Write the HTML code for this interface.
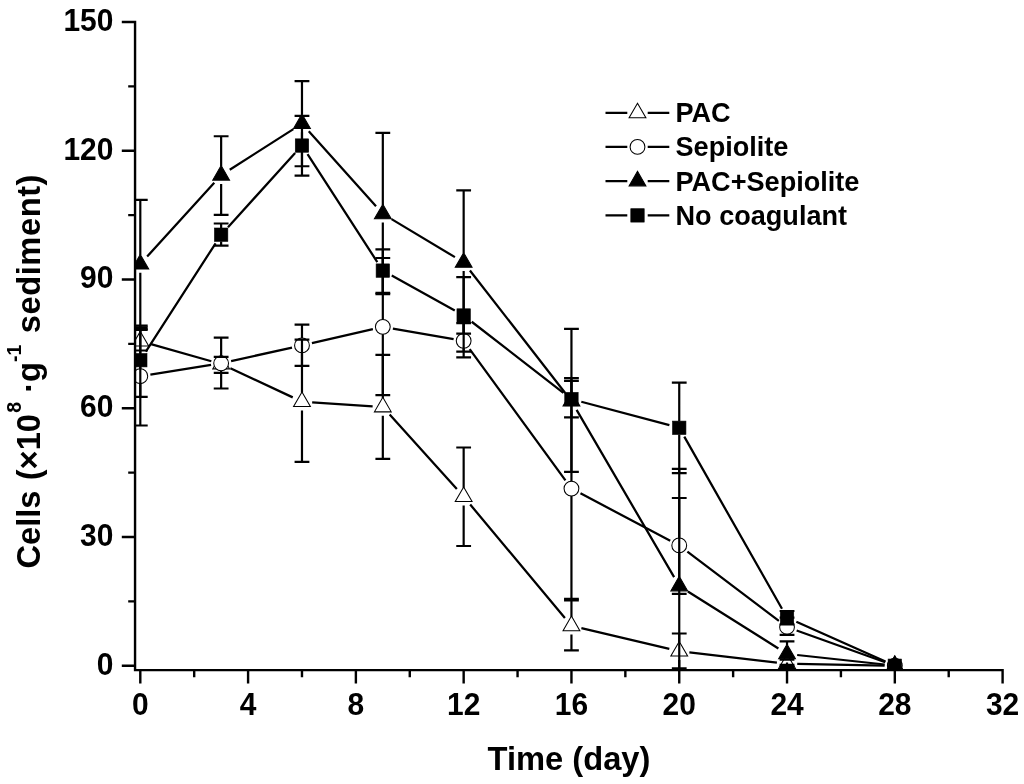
<!DOCTYPE html>
<html><head><meta charset="utf-8"><title>Chart</title>
<style>html,body{margin:0;padding:0;background:#fff;}body{width:1024px;height:784px;position:relative;overflow:hidden;font-family:"Liberation Sans",sans-serif;}</style></head>
<body>
<svg width="1024" height="784" viewBox="0 0 1024 784" style="display:block;position:absolute;left:0;top:0;will-change:transform">
<defs><clipPath id="pc"><rect x="134.45" y="0" width="1024" height="670.75"/></clipPath></defs>
<g clip-path="url(#pc)">
<path d="M150.11 343.88L211.33 361.22M230.39 368.31L292.74 397.39M312.16 402.37L372.64 406.33M389.65 414.58L456.84 489.12M470.2 504.53L564.91 617.97M581.38 628.14L669.31 648.86M689.37 652.38L776.9 662.52M797.23 663.89L884.62 665.51" fill="none" stroke="#000" stroke-width="2.25" stroke-linecap="butt"/>
<path d="M140.3 331.4L148.7 345.95L131.9 345.95Z" fill="#fff" stroke="#000" stroke-width="1.05" stroke-linejoin="miter"/>
<path d="M221.14 354.3L229.54 368.85L212.74 368.85Z" fill="#fff" stroke="#000" stroke-width="1.05" stroke-linejoin="miter"/>
<path d="M301.98 392L310.38 406.55L293.58 406.55Z" fill="#fff" stroke="#000" stroke-width="1.05" stroke-linejoin="miter"/>
<path d="M382.82 397.3L391.22 411.85L374.42 411.85Z" fill="#fff" stroke="#000" stroke-width="1.05" stroke-linejoin="miter"/>
<path d="M463.66 487L472.06 501.55L455.26 501.55Z" fill="#fff" stroke="#000" stroke-width="1.05" stroke-linejoin="miter"/>
<path d="M571.45 616.1L579.85 630.65L563.05 630.65Z" fill="#fff" stroke="#000" stroke-width="1.05" stroke-linejoin="miter"/>
<path d="M679.24 641.5L687.64 656.05L670.84 656.05Z" fill="#fff" stroke="#000" stroke-width="1.05" stroke-linejoin="miter"/>
<path d="M787.03 654L795.43 668.55L778.63 668.55Z" fill="#fff" stroke="#000" stroke-width="1.05" stroke-linejoin="miter"/>
<path d="M894.82 656L903.22 670.55L886.42 670.55Z" fill="#fff" stroke="#000" stroke-width="1.05" stroke-linejoin="miter"/>
<path d="M150.37 374.59L211.07 364.91M231.1 361.09L292.02 347.61M311.92 343.11L372.88 329.09M392.87 328.54L453.61 339.06M469.67 349.04L565.44 480.36M580.48 493.36L670.22 540.64M687.37 551.56L778.9 620.84M796.63 630.45L885.22 662.25" fill="none" stroke="#000" stroke-width="2.25" stroke-linecap="butt"/>
<circle cx="140.3" cy="376.2" r="7.4" fill="#fff" stroke="#000" stroke-width="1.05"/>
<circle cx="221.14" cy="363.3" r="7.4" fill="#fff" stroke="#000" stroke-width="1.05"/>
<circle cx="301.98" cy="345.4" r="7.4" fill="#fff" stroke="#000" stroke-width="1.05"/>
<circle cx="382.82" cy="326.8" r="7.4" fill="#fff" stroke="#000" stroke-width="1.05"/>
<circle cx="463.66" cy="340.8" r="7.4" fill="#fff" stroke="#000" stroke-width="1.05"/>
<circle cx="571.45" cy="488.6" r="7.4" fill="#fff" stroke="#000" stroke-width="1.05"/>
<circle cx="679.24" cy="545.4" r="7.4" fill="#fff" stroke="#000" stroke-width="1.05"/>
<circle cx="787.03" cy="627" r="7.4" fill="#fff" stroke="#000" stroke-width="1.05"/>
<circle cx="894.82" cy="665.7" r="7.4" fill="#fff" stroke="#000" stroke-width="1.05"/>
<path d="M147.16 256.56L214.28 182.79M229.74 169.76L293.39 129.09M308.79 131.2L376.02 206.3M391.57 219.15L454.92 257.15M469.93 270.45L565.19 392.95M576.59 409.81L674.11 577.19M687.87 591.44L778.4 648.46M797.17 655L884.68 664.5" fill="none" stroke="#000" stroke-width="2.25" stroke-linecap="butt"/>
<path d="M140.3 254.4L148.7 268.95L131.9 268.95Z" fill="#000" stroke="#000" stroke-width="1.05" stroke-linejoin="miter"/>
<path d="M221.14 165.55L229.54 180.1L212.74 180.1Z" fill="#000" stroke="#000" stroke-width="1.05" stroke-linejoin="miter"/>
<path d="M301.98 113.9L310.38 128.45L293.58 128.45Z" fill="#000" stroke="#000" stroke-width="1.05" stroke-linejoin="miter"/>
<path d="M382.82 204.2L391.22 218.75L374.42 218.75Z" fill="#000" stroke="#000" stroke-width="1.05" stroke-linejoin="miter"/>
<path d="M463.66 252.7L472.06 267.25L455.26 267.25Z" fill="#000" stroke="#000" stroke-width="1.05" stroke-linejoin="miter"/>
<path d="M571.45 391.3L579.85 405.85L563.05 405.85Z" fill="#000" stroke="#000" stroke-width="1.05" stroke-linejoin="miter"/>
<path d="M679.24 576.3L687.64 590.85L670.84 590.85Z" fill="#000" stroke="#000" stroke-width="1.05" stroke-linejoin="miter"/>
<path d="M787.03 644.2L795.43 658.75L778.63 658.75Z" fill="#000" stroke="#000" stroke-width="1.05" stroke-linejoin="miter"/>
<path d="M894.82 655.9L903.22 670.45L886.42 670.45Z" fill="#000" stroke="#000" stroke-width="1.05" stroke-linejoin="miter"/>
<path d="M145.82 351.63L215.62 243.27M227.99 227.14L295.13 153.11M307.52 154.12L377.29 262.03M391.74 275.55L454.75 310.55M471.72 321.75L563.39 392.85M581.31 401.72L669.38 425.18M684.28 436.67L781.99 608.73M796.34 621.76L885.5 661.59" fill="none" stroke="#000" stroke-width="2.25" stroke-linecap="butt"/>
<rect x="133.6" y="353.5" width="13.4" height="13.4" fill="#000" stroke="#000" stroke-width="0.6"/>
<rect x="214.44" y="228" width="13.4" height="13.4" fill="#000" stroke="#000" stroke-width="0.6"/>
<rect x="295.28" y="138.85" width="13.4" height="13.4" fill="#000" stroke="#000" stroke-width="0.6"/>
<rect x="376.12" y="263.9" width="13.4" height="13.4" fill="#000" stroke="#000" stroke-width="0.6"/>
<rect x="456.96" y="308.8" width="13.4" height="13.4" fill="#000" stroke="#000" stroke-width="0.6"/>
<rect x="564.75" y="392.4" width="13.4" height="13.4" fill="#000" stroke="#000" stroke-width="0.6"/>
<rect x="672.54" y="421.1" width="13.4" height="13.4" fill="#000" stroke="#000" stroke-width="0.6"/>
<rect x="780.33" y="610.9" width="13.4" height="13.4" fill="#000" stroke="#000" stroke-width="0.6"/>
<rect x="888.12" y="659.05" width="13.4" height="13.4" fill="#000" stroke="#000" stroke-width="0.6"/>
<path d="M132.9 330H147.7M132.9 350.5H147.7M140.3 330V332.1M140.3 349.8V350.5M213.74 356.8H228.54M213.74 372.9H228.54M221.14 372.7V372.9M294.58 339.6H309.38M294.58 461.8H309.38M301.98 339.6V392.7M301.98 410.4V461.8M375.42 354.9H390.22M375.42 458.8H390.22M382.82 354.9V398M382.82 415.7V458.8M456.26 447.5H471.06M456.26 546H471.06M463.66 447.5V487.7M463.66 505.4V546M564.05 600.4H578.85M564.05 650.4H578.85M571.45 600.4V616.8M571.45 634.5V650.4M671.84 633.5H686.64M671.84 668.3H686.64M679.24 633.5V642.2M679.24 659.9V668.3M779.63 659.7H794.43M779.63 666.9H794.43" fill="none" stroke="#000" stroke-width="2.2"/>
<path d="M132.9 327.3H147.7M132.9 425.5H147.7M140.3 327.3V368.8M140.3 383.6V425.5M213.74 337.6H228.54M213.74 388.5H228.54M221.14 337.6V355.9M221.14 370.7V388.5M294.58 324.55H309.38M294.58 365.9H309.38M301.98 324.55V338M301.98 352.8V365.9M375.42 258H390.22M375.42 395.2H390.22M382.82 258V319.4M382.82 334.2V395.2M456.26 323.1H471.06M456.26 357.3H471.06M463.66 323.1V333.4M463.66 348.2V357.3M564.05 378.1H578.85M564.05 598.9H578.85M571.45 378.1V481.2M571.45 496V598.9M671.84 498H686.64M671.84 593.9H686.64M679.24 498V538M679.24 552.8V593.9M779.63 617.6H794.43M779.63 634.8H794.43M787.03 617.6V619.6M787.03 634.4V634.8" fill="none" stroke="#000" stroke-width="2.2"/>
<path d="M132.9 199.8H147.7M132.9 329H147.7M140.3 199.8V255.1M140.3 272.8V329M213.74 136.25H228.54M213.74 214.9H228.54M221.14 136.25V166.25M221.14 183.95V214.9M294.58 81.1H309.38M294.58 166.25H309.38M301.98 81.1V114.6M301.98 132.3V166.25M375.42 132.9H390.22M375.42 294.1H390.22M382.82 132.9V204.9M382.82 222.6V294.1M456.26 190.3H471.06M456.26 333.7H471.06M463.66 190.3V253.4M463.66 271.1V333.7M564.05 328.9H578.85M564.05 471.9H578.85M571.45 328.9V392M571.45 409.7V471.9M671.84 468.9H686.64M671.84 703H686.64M679.24 468.9V577M679.24 594.7V703M779.63 641.4H794.43M779.63 664.9H794.43M787.03 641.4V644.9M787.03 662.6V664.9" fill="none" stroke="#000" stroke-width="2.2"/>
<path d="M132.9 325.6H147.7M132.9 396.9H147.7M140.3 325.6V353.5M140.3 366.9V396.9M213.74 223.5H228.54M213.74 245.7H228.54M221.14 223.5V228M221.14 241.4V245.7M294.58 115.8H309.38M294.58 175.6H309.38M301.98 115.8V138.85M301.98 152.25V175.6M375.42 249.3H390.22M375.42 292.8H390.22M382.82 249.3V263.9M382.82 277.3V292.8M456.26 277.2H471.06M456.26 351.7H471.06M463.66 277.2V308.8M463.66 322.2V351.7M564.05 380.8H578.85M564.05 417.4H578.85M571.45 380.8V392.4M571.45 405.8V417.4M671.84 382.7H686.64M671.84 473.1H686.64M679.24 382.7V421.1M679.24 434.5V473.1M779.63 611H794.43M779.63 624.3H794.43" fill="none" stroke="#000" stroke-width="2.2"/>
</g>
<path d="M135.05 20.8V671.35M133.85 670.15H1003.8M121.8 665.75H135.05M128.2 601.37H135.05M121.8 537H135.05M128.2 472.62H135.05M121.8 408.25H135.05M128.2 343.87H135.05M121.8 279.5H135.05M128.2 215.12H135.05M121.8 150.75H135.05M128.2 86.37H135.05M121.8 22H135.05M140.3 670.15V683.4M194.19 670.15V677.2M248.09 670.15V683.4M301.98 670.15V677.2M355.88 670.15V683.4M409.77 670.15V677.2M463.66 670.15V683.4M517.56 670.15V677.2M571.45 670.15V683.4M625.35 670.15V677.2M679.24 670.15V683.4M733.13 670.15V677.2M787.03 670.15V683.4M840.92 670.15V677.2M894.82 670.15V683.4M948.71 670.15V677.2M1002.6 670.15V683.4" fill="none" stroke="#000" stroke-width="2.4"/>
<text transform="translate(113.4 674.65) scale(0.96 1)" text-anchor="end" font-size="31.2" font-family="Liberation Sans, sans-serif" font-weight="700">0</text>
<text transform="translate(113.4 545.9) scale(0.96 1)" text-anchor="end" font-size="31.2" font-family="Liberation Sans, sans-serif" font-weight="700">30</text>
<text transform="translate(113.4 417.15) scale(0.96 1)" text-anchor="end" font-size="31.2" font-family="Liberation Sans, sans-serif" font-weight="700">60</text>
<text transform="translate(113.4 288.4) scale(0.96 1)" text-anchor="end" font-size="31.2" font-family="Liberation Sans, sans-serif" font-weight="700">90</text>
<text transform="translate(113.4 159.65) scale(0.96 1)" text-anchor="end" font-size="31.2" font-family="Liberation Sans, sans-serif" font-weight="700">120</text>
<text transform="translate(113.4 30.9) scale(0.96 1)" text-anchor="end" font-size="31.2" font-family="Liberation Sans, sans-serif" font-weight="700">150</text>
<text transform="translate(140.3 715.3) scale(0.96 1)" text-anchor="middle" font-size="31.2" font-family="Liberation Sans, sans-serif" font-weight="700">0</text>
<text transform="translate(248.09 715.3) scale(0.96 1)" text-anchor="middle" font-size="31.2" font-family="Liberation Sans, sans-serif" font-weight="700">4</text>
<text transform="translate(355.88 715.3) scale(0.96 1)" text-anchor="middle" font-size="31.2" font-family="Liberation Sans, sans-serif" font-weight="700">8</text>
<text transform="translate(463.66 715.3) scale(0.96 1)" text-anchor="middle" font-size="31.2" font-family="Liberation Sans, sans-serif" font-weight="700">12</text>
<text transform="translate(571.45 715.3) scale(0.96 1)" text-anchor="middle" font-size="31.2" font-family="Liberation Sans, sans-serif" font-weight="700">16</text>
<text transform="translate(679.24 715.3) scale(0.96 1)" text-anchor="middle" font-size="31.2" font-family="Liberation Sans, sans-serif" font-weight="700">20</text>
<text transform="translate(787.03 715.3) scale(0.96 1)" text-anchor="middle" font-size="31.2" font-family="Liberation Sans, sans-serif" font-weight="700">24</text>
<text transform="translate(894.82 715.3) scale(0.96 1)" text-anchor="middle" font-size="31.2" font-family="Liberation Sans, sans-serif" font-weight="700">28</text>
<text transform="translate(1002.6 715.3) scale(0.96 1)" text-anchor="middle" font-size="31.2" font-family="Liberation Sans, sans-serif" font-weight="700">32</text>
<text transform="translate(569 769.8) scale(0.985 1)" text-anchor="middle" font-size="33.2" font-family="Liberation Sans, sans-serif" font-weight="700">Time (day)</text>
<text transform="translate(40.2 568.6) rotate(-90) scale(0.985 1)" font-family="Liberation Sans, sans-serif" font-weight="700" font-size="33.2">Cells <tspan dx="1.1">(×10</tspan><tspan font-size="19.8" dy="-19.4" dx="1.2">8</tspan><tspan dy="19.4"> ·g</tspan><tspan font-size="19.8" dy="-19.4">-1</tspan><tspan dy="19.4" dx="1.8" letter-spacing="0.55"> sediment)</tspan></text>
<path d="M605.5 112.9H627.3M647.7 112.9H669.3" stroke="#000" stroke-width="2.25" fill="none"/><path d="M637.5 103.2L645.9 117.75L629.1 117.75Z" fill="#fff" stroke="#000" stroke-width="1.05" stroke-linejoin="miter"/><text transform="translate(675.5 122.4) scale(0.975 1)" text-anchor="start" font-size="27.8" font-family="Liberation Sans, sans-serif" font-weight="700">PAC</text><path d="M605.5 146.9H627.3M647.7 146.9H669.3" stroke="#000" stroke-width="2.25" fill="none"/><circle cx="637.5" cy="146.9" r="7.4" fill="#fff" stroke="#000" stroke-width="1.05"/><text transform="translate(675.5 156.4) scale(0.975 1)" text-anchor="start" font-size="27.8" font-family="Liberation Sans, sans-serif" font-weight="700">Sepiolite</text><path d="M605.5 181H627.3M647.7 181H669.3" stroke="#000" stroke-width="2.25" fill="none"/><path d="M637.5 171.3L645.9 185.85L629.1 185.85Z" fill="#000" stroke="#000" stroke-width="1.05" stroke-linejoin="miter"/><text transform="translate(675.5 190.5) scale(0.975 1)" text-anchor="start" font-size="27.8" font-family="Liberation Sans, sans-serif" font-weight="700">PAC+Sepiolite</text><path d="M605.5 215.4H627.3M647.7 215.4H669.3" stroke="#000" stroke-width="2.25" fill="none"/><rect x="630.8" y="208.7" width="13.4" height="13.4" fill="#000" stroke="#000" stroke-width="0.6"/><text transform="translate(675.5 224.9) scale(0.975 1)" text-anchor="start" font-size="27.8" font-family="Liberation Sans, sans-serif" font-weight="700">No coagulant</text>
</svg>
</body></html>
